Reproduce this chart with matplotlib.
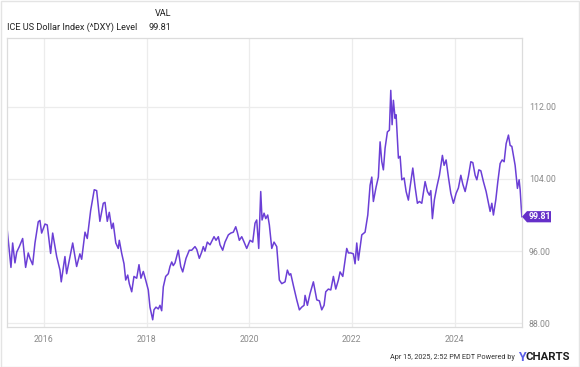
import matplotlib
matplotlib.use("Agg")
import matplotlib.pyplot as plt
from matplotlib.patches import Rectangle, Polygon

# ---- data (decimal year, index level) ----
years = [
    2015.285, 2015.357, 2015.39, 2015.435, 2015.47, 2015.52, 2015.585, 2015.643, 2015.694, 2015.727,
    2015.78, 2015.825, 2015.889, 2015.922, 2015.955, 2016.02, 2016.064, 2016.13, 2016.17, 2016.248,
    2016.312, 2016.337, 2016.409, 2016.442, 2016.507, 2016.56, 2016.637, 2016.70, 2016.735, 2016.80,
    2016.844, 2016.91, 2016.98, 2017.027, 2017.09, 2017.156, 2017.19, 2017.234, 2017.273, 2017.32,
    2017.35, 2017.40, 2017.448, 2017.468, 2017.515, 2017.56, 2017.593, 2017.632, 2017.663, 2017.71,
    2017.754, 2017.807, 2017.852, 2017.89, 2017.936, 2017.982, 2018.033, 2018.066, 2018.10, 2018.119,
    2018.144, 2018.183, 2018.228, 2018.261, 2018.294, 2018.326, 2018.372, 2018.423, 2018.456, 2018.49,
    2018.52, 2018.554, 2018.618, 2018.665, 2018.704, 2018.768, 2018.832, 2018.879, 2018.943, 2018.977,
    2019.027, 2019.074, 2019.105, 2019.138, 2019.183, 2019.236, 2019.314, 2019.353, 2019.398, 2019.431,
    2019.483, 2019.528, 2019.593, 2019.64, 2019.69, 2019.737, 2019.768, 2019.807, 2019.854, 2019.90,
    2019.951, 2020.016, 2020.068, 2020.113, 2020.146, 2020.185, 2020.224, 2020.25, 2020.289, 2020.322,
    2020.36, 2020.392, 2020.439, 2020.483, 2020.536, 2020.587, 2020.634, 2020.698, 2020.743, 2020.782,
    2020.809, 2020.86, 2020.926, 2020.977, 2021.023, 2021.068, 2021.088, 2021.133, 2021.185, 2021.25,
    2021.316, 2021.367, 2021.413, 2021.458, 2021.491, 2021.542, 2021.589, 2021.64, 2021.686, 2021.737,
    2021.77, 2021.823, 2021.90, 2021.932, 2021.979, 2022.029, 2022.062, 2022.095, 2022.127, 2022.193,
    2022.257, 2022.31, 2022.355, 2022.388, 2022.419, 2022.472, 2022.516, 2022.55, 2022.583, 2022.614,
    2022.647, 2022.692, 2022.731, 2022.758, 2022.784, 2022.809, 2022.842, 2022.862, 2022.907, 2022.94,
    2022.973, 2023.018, 2023.057, 2023.101, 2023.134, 2023.187, 2023.232, 2023.277, 2023.316, 2023.362,
    2023.427, 2023.472, 2023.511, 2023.538, 2023.569, 2023.608, 2023.655, 2023.706, 2023.764, 2023.797,
    2023.836, 2023.881, 2023.928, 2023.979, 2024.031, 2024.076, 2024.123, 2024.162, 2024.207, 2024.271,
    2024.318, 2024.357, 2024.402, 2024.435, 2024.474, 2024.513, 2024.563, 2024.616, 2024.661, 2024.694,
    2024.727, 2024.758, 2024.805, 2024.844, 2024.889, 2024.928, 2024.967, 2025.006, 2025.051, 2025.084,
    2025.117, 2025.181, 2025.226, 2025.259, 2025.279, 2025.312,
]
values = [
    98.3, 94.2, 96.9, 94.7, 95.9, 96.5, 97.4, 94.2, 95.8, 95.2,
    94.5, 96.9, 99.25, 99.4, 98.0, 99.0, 98.9, 95.75, 98.0, 95.4,
    93.9, 92.6, 95.4, 93.5, 95.4, 96.9, 94.3, 95.7, 95.1, 98.1,
    97.4, 100.5, 102.8, 102.7, 99.3, 101.3, 101.4, 99.3, 100.3, 98.5,
    99.1, 96.9, 96.3, 97.2, 95.75, 94.6, 92.8, 93.35, 92.4, 91.5,
    93.2, 93.0, 94.5, 93.0, 93.75, 92.8, 91.7, 89.8, 88.9, 88.4,
    89.5, 89.8, 89.6, 90.0, 89.4, 92.05, 93.2, 93.5, 94.3, 94.8,
    94.4, 94.7, 96.1, 94.3, 93.7, 95.2, 96.1, 96.1, 96.5, 96.2,
    95.2, 95.9, 96.5, 96.0, 97.0, 96.7, 97.6, 97.2, 97.6, 96.7,
    96.1, 97.0, 97.8, 98.0, 98.1, 98.7, 98.1, 97.2, 97.6, 97.0,
    96.3, 97.2, 97.0, 99.1, 99.45, 96.3, 102.6, 99.45, 100.2, 99.6,
    100.0, 98.9, 96.3, 97.0, 96.5, 92.8, 92.4, 92.6, 93.9, 93.35,
    93.5, 92.2, 90.6, 89.5, 89.8, 90.0, 91.1, 90.0, 91.3, 92.6,
    90.6, 90.5, 89.5, 90.0, 91.5, 91.8, 91.7, 93.2, 91.8, 92.8,
    93.7, 93.2, 96.3, 95.8, 95.8, 95.7, 94.6, 96.9, 95.0, 97.8,
    98.1, 100.0, 103.3, 104.2, 101.5, 103.1, 104.2, 108.1, 105.9, 105.0,
    107.4, 109.2, 109.4, 113.8, 110.0, 112.7, 110.7, 111.1, 106.3, 106.5,
    103.9, 104.1, 102.6, 101.65, 103.1, 105.2, 103.1, 101.3, 101.5, 101.3,
    103.7, 102.6, 102.2, 102.7, 99.6, 101.7, 103.1, 104.4, 106.6, 105.5,
    106.1, 104.2, 102.4, 101.3, 102.4, 103.0, 104.4, 103.4, 102.6, 104.3,
    105.9, 105.8, 104.4, 103.9, 105.0, 104.9, 103.7, 102.6, 101.3, 100.4,
    101.3, 100.0, 101.7, 103.7, 105.7, 106.1, 105.9, 107.9, 108.85, 107.7,
    107.6, 105.5, 102.95, 103.9, 102.8, 99.81,
]
y_ticks = [88.0, 96.0, 104.0, 112.0]
x_ticks = [2016, 2018, 2020, 2022, 2024]
series_name = "ICE US Dollar Index (^DXY) Level"
last_value = values[-1]

LINE = "#6b3fd6"
GRID = "#ececec"
FONT = ["Roboto", "DejaVu Sans"]

fig = plt.figure(figsize=(5.8, 3.67), dpi=100)
fig.patch.set_facecolor("white")
fig.add_artist(Rectangle((0.001, 0.001), 0.997, 0.997, transform=fig.transFigure,
                         fill=False, edgecolor="#e4e4e4", linewidth=1.0))

ax = fig.add_axes([7 / 580, 1 - 327 / 367, 515 / 580, (327 - 38) / 367])
ax.plot(years, values, color=LINE, linewidth=1.1, solid_joinstyle="round")
ax.set_xlim(2015.28, 2025.315)
ax.set_ylim(87.6, 119.6)

ax.set_xticks(x_ticks)
ax.set_xticklabels([str(t) for t in x_ticks])
ax.set_yticks(y_ticks)
ax.set_yticklabels([f"{v:.2f}" for v in y_ticks])
ax.yaxis.tick_right()
ax.tick_params(axis="both", length=0, labelsize=6.3, colors="#8a8a8a")
ax.tick_params(axis="y", pad=5)
ax.tick_params(axis="x", pad=6)
for lab in ax.get_xticklabels() + ax.get_yticklabels():
    lab.set_family(FONT)
ax.grid(True, color=GRID, linewidth=0.9)
for s in ax.spines.values():
    s.set_color("#dcdcdc")
    s.set_linewidth(0.9)

# last value tag
tag_y = last_value
tr = ax.get_yaxis_transform()
ax.add_patch(Polygon([(1.0, tag_y), (1.0 + 5 / 515, tag_y + 0.62), (1.0 + 29 / 515, tag_y + 0.62),
                      (1.0 + 29 / 515, tag_y - 0.62), (1.0 + 5 / 515, tag_y - 0.62)],
                     closed=True, transform=tr, facecolor="#6530c9", edgecolor="none",
                     clip_on=False, zorder=5))
ax.text(1.0 + 17.5 / 515, tag_y, f"{last_value:.2f}", transform=tr, ha="center", va="center",
        color="white", fontsize=6.3, fontweight="bold", family=FONT, zorder=6, clip_on=False)

# header
fig.text(7 / 580, 1 - 27 / 367, series_name, ha="left", va="center", fontsize=6.6,
         color="#222222", family=FONT)
fig.text(171 / 580, 1 - 13 / 367, "VAL", ha="right", va="center", fontsize=6.6,
         color="#222222", family=FONT)
fig.text(171 / 580, 1 - 27 / 367, f"{last_value:.2f}", ha="right", va="center", fontsize=6.6,
         color="#222222", family=FONT)

# footer
fig.text(515 / 580, 1 - 357.5 / 367, "Apr 15, 2025, 2:52 PM EDT Powered by", ha="right",
         va="center", fontsize=5.2, color="#333333", family=FONT)
fig.text(518 / 580, 1 - 357.5 / 367, "Y", ha="left", va="center", fontsize=9,
         color="#5a5ee6", fontweight="bold", family=FONT)
fig.text(526 / 580, 1 - 357.5 / 367, "CHARTS", ha="left", va="center", fontsize=8.2,
         color="#1c1c1c", fontweight="bold", family=FONT)

fig.savefig("out.png", dpi=100)
